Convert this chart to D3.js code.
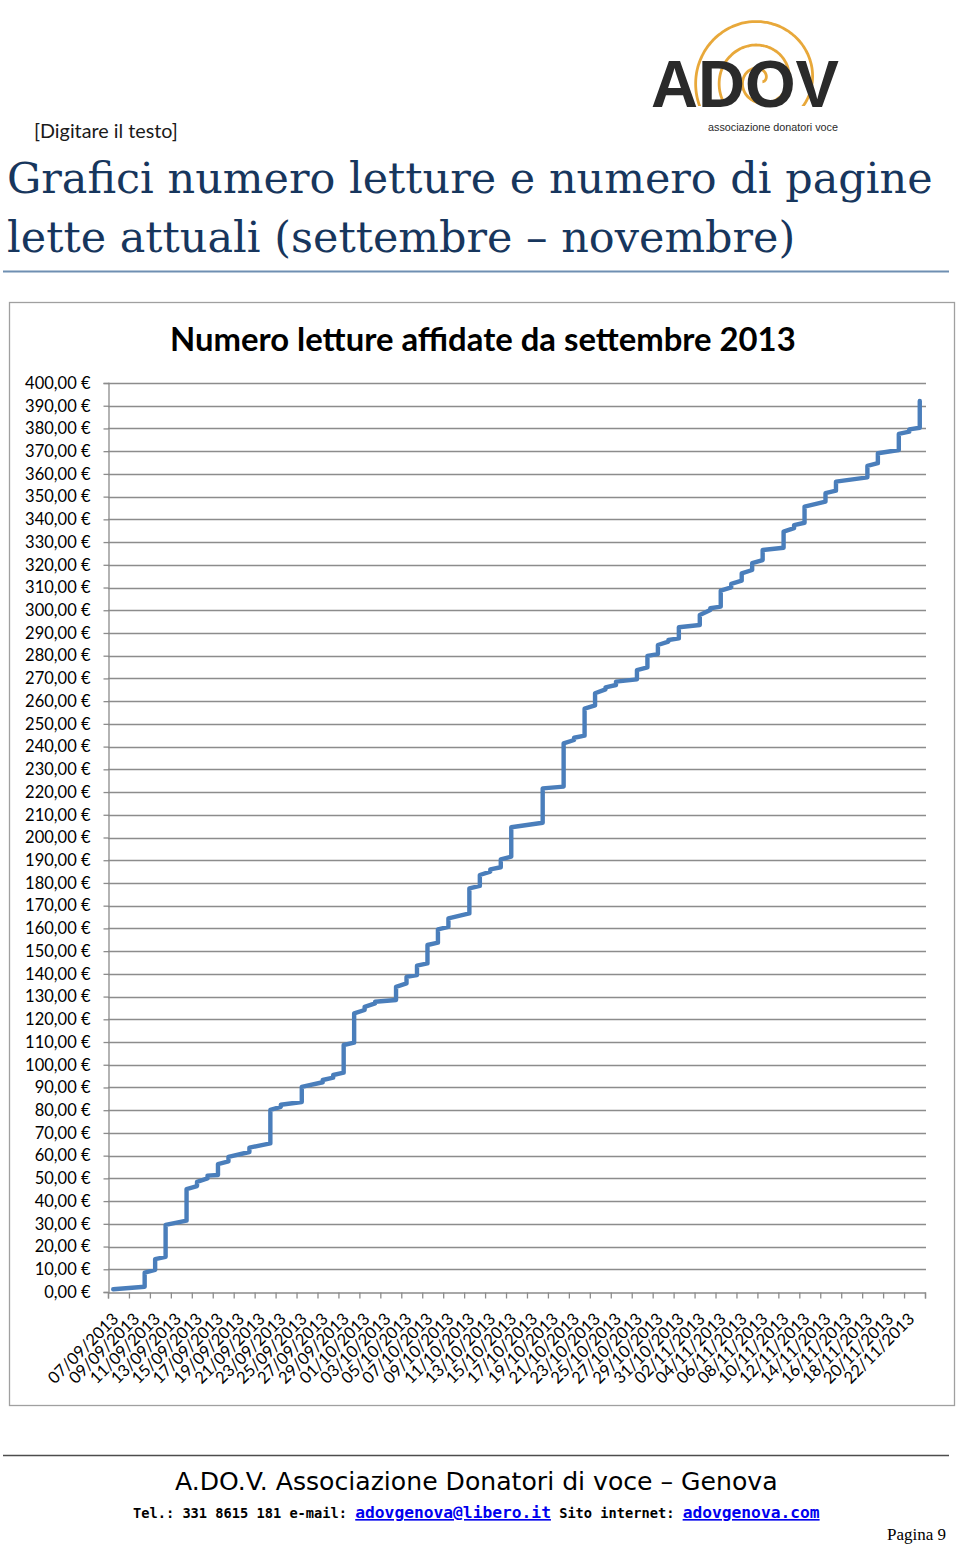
<!DOCTYPE html>
<html>
<head>
<meta charset="utf-8">
<script src="https://cdn.jsdelivr.net/npm/d3@7"></script>
<style>
  html, body { margin: 0; padding: 0; background: #fff; }
  svg { display: block; }
</style>
</head>
<body>
<div id="chart"></div>
<script>
// ---------------- DATA ----------------
const chartTitle = "Numero letture affidate da settembre 2013";
const pageTitle1 = "Grafici numero letture e numero di pagine";
const pageTitle2 = "lette attuali (settembre \u2013 novembre)";

// x-axis labels (every 2 days)
const tickLabels = [
  "07/09/2013","09/09/2013","11/09/2013","13/09/2013","15/09/2013","17/09/2013",
  "19/09/2013","21/09/2013","23/09/2013","25/09/2013","27/09/2013","29/09/2013",
  "01/10/2013","03/10/2013","05/10/2013","07/10/2013","09/10/2013","11/10/2013",
  "13/10/2013","15/10/2013","17/10/2013","19/10/2013","21/10/2013","23/10/2013",
  "25/10/2013","27/10/2013","29/10/2013","31/10/2013","02/11/2013","04/11/2013",
  "06/11/2013","08/11/2013","10/11/2013","12/11/2013","14/11/2013","16/11/2013",
  "18/11/2013","20/11/2013","22/11/2013"
];

// data points (several entries can share a date -> vertical steps)
const pointDates = [
  "07/09/2013",
  "10/09/2013","10/09/2013",
  "11/09/2013","11/09/2013",
  "12/09/2013","12/09/2013",
  "14/09/2013","14/09/2013",
  "15/09/2013","15/09/2013",
  "16/09/2013","16/09/2013",
  "17/09/2013","17/09/2013",
  "18/09/2013","18/09/2013",
  "20/09/2013","20/09/2013",
  "22/09/2013","22/09/2013",
  "23/09/2013","23/09/2013",
  "25/09/2013","25/09/2013",
  "27/09/2013","27/09/2013",
  "28/09/2013","28/09/2013",
  "29/09/2013","29/09/2013",
  "30/09/2013","30/09/2013",
  "01/10/2013","01/10/2013",
  "02/10/2013","02/10/2013",
  "04/10/2013","04/10/2013",
  "05/10/2013","05/10/2013",
  "06/10/2013","06/10/2013",
  "07/10/2013","07/10/2013",
  "08/10/2013","08/10/2013",
  "09/10/2013","09/10/2013",
  "11/10/2013","11/10/2013",
  "12/10/2013","12/10/2013",
  "13/10/2013","13/10/2013",
  "14/10/2013","14/10/2013",
  "15/10/2013","15/10/2013",
  "18/10/2013","18/10/2013",
  "20/10/2013","20/10/2013",
  "21/10/2013","21/10/2013",
  "22/10/2013","22/10/2013",
  "23/10/2013","23/10/2013",
  "24/10/2013","24/10/2013",
  "25/10/2013","25/10/2013",
  "27/10/2013","27/10/2013",
  "28/10/2013","28/10/2013",
  "29/10/2013","29/10/2013",
  "30/10/2013","30/10/2013",
  "31/10/2013","31/10/2013",
  "02/11/2013","02/11/2013",
  "03/11/2013","03/11/2013",
  "04/11/2013","04/11/2013",
  "05/11/2013","05/11/2013",
  "06/11/2013","06/11/2013",
  "07/11/2013","07/11/2013",
  "08/11/2013","08/11/2013",
  "10/11/2013","10/11/2013",
  "11/11/2013","11/11/2013",
  "12/11/2013","12/11/2013",
  "14/11/2013","14/11/2013",
  "15/11/2013","15/11/2013",
  "18/11/2013","18/11/2013",
  "19/11/2013","19/11/2013",
  "21/11/2013","21/11/2013",
  "22/11/2013","22/11/2013",
  "23/11/2013","23/11/2013"
];
const pointValues = [
  1.2,
  2.3, 8.5,
  9.7, 14.5,
  15.5, 29.5,
  31.4, 45.3,
  46.6, 48.5,
  50.0, 51.2,
  51.5, 56.3,
  57.5, 59.5,
  61.6, 63.5,
  65.4, 80.1,
  81.5, 82.4,
  83.6, 90.3,
  92.3, 93.3,
  94.3, 95.5,
  96.5, 108.7,
  109.7, 122.6,
  124.1, 125.5,
  127.0, 127.7,
  128.5, 134.3,
  135.8, 138.7,
  139.5, 143.6,
  144.6, 152.7,
  153.7, 159.6,
  160.7, 164.4,
  166.6, 177.6,
  178.7, 183.5,
  185.0, 186.0,
  186.9, 190.4,
  191.6, 204.5,
  206.5, 221.6,
  222.4, 241.4,
  242.9, 243.9,
  244.8, 256.7,
  258.1, 263.5,
  265.2, 266.1,
  267.1, 268.6,
  269.6, 273.7,
  274.9, 279.9,
  280.7, 284.7,
  286.2, 286.9,
  287.6, 292.5,
  293.5, 297.9,
  300.1, 300.9,
  301.6, 308.6,
  310.1, 311.6,
  313.0, 316.2,
  317.7, 320.7,
  322.1, 326.5,
  327.5, 334.6,
  336.1, 337.5,
  338.5, 345.6,
  347.8, 351.5,
  352.6, 356.6,
  358.5, 363.5,
  364.7, 369.1,
  370.5, 377.6,
  378.6, 379.6,
  380.3, 392.1
];

const yMax = 400;
const yStep = 10;

// ---------------- DRAW ----------------
const W = 960, H = 1545;
const svg = d3.select("#chart").append("svg").attr("width", W).attr("height", H);

function fitWidth(sel, target) {
  const w = sel.node().getComputedTextLength();
  const fs = parseFloat(sel.attr("font-size"));
  sel.attr("font-size", fs * target / w);
}

// ----- logo -----
const logo = svg.append("g");
{
  svg.append("defs").append("clipPath").attr("id", "logoclip")
    .append("rect").attr("x", 640).attr("y", 0).attr("width", 220).attr("height", 106);
  const cx = 760, cy = 80;
  const pts = d3.range(0, 6 * Math.PI, 0.05).map(t => {
    const r = 3 + t * 3.75;
    const a = -t + Math.PI * 0.2;
    return [cx + r * Math.cos(a), cy + r * Math.sin(a)];
  });
  logo.append("path")
    .attr("clip-path", "url(#logoclip)")
    .attr("d", d3.line().curve(d3.curveBasis)(pts))
    .attr("fill", "none").attr("stroke", "#e8a83a").attr("stroke-width", 2.8);
  logo.append("text").text("ADOV")
    .attr("x", 651).attr("y", 107)
    .attr("font-family", "Liberation Sans, Arial, sans-serif")
    .attr("font-weight", "bold").attr("font-size", 66)
    .attr("fill", "#2a2a2a")
    .attr("textLength", 188).attr("lengthAdjust", "spacingAndGlyphs");
  logo.append("text").text("associazione donatori voce")
    .attr("x", 708).attr("y", 131)
    .attr("font-family", "Liberation Sans Narrow, Liberation Sans, Arial, sans-serif")
    .attr("font-size", 10.5).attr("fill", "#2a2a2a")
    .attr("textLength", 130).attr("lengthAdjust", "spacingAndGlyphs");
}

// ----- page header -----
svg.append("text").text("[Digitare il testo]")
  .attr("x", 34).attr("y", 138)
  .attr("font-family", "Lato, Carlito, sans-serif").attr("font-size", 18).attr("fill", "#1a1a1a")
  .call(s => fitWidth(s, 144));

const t1 = svg.append("text").text(pageTitle1)
  .attr("x", 7).attr("y", 193)
  .attr("font-family", "DejaVu Serif, serif").attr("font-size", 46).attr("fill", "#17365d");
fitWidth(t1, 926);
const t2 = svg.append("text").text(pageTitle2)
  .attr("x", 7).attr("y", 252)
  .attr("font-family", "DejaVu Serif, serif").attr("font-size", +t1.attr("font-size")).attr("fill", "#17365d");

svg.append("line").attr("x1", 3).attr("x2", 949).attr("y1", 271.5).attr("y2", 271.5)
  .attr("stroke", "#6f8fb2").attr("stroke-width", 2);

// ----- chart frame -----
svg.append("rect").attr("x", 9.5).attr("y", 302.5).attr("width", 945).attr("height", 1103)
  .attr("fill", "#fff").attr("stroke", "#a0a0a0").attr("stroke-width", 1.3);

svg.append("text").text(chartTitle)
  .attr("x", 170).attr("y", 351)
  .attr("font-family", "Lato, Carlito, sans-serif").attr("font-weight", "bold")
  .attr("font-size", 31).attr("fill", "#000")
  .call(s => fitWidth(s, 626));

// scales
const parse = d3.utcParse("%d/%m/%Y");
const firstDate = parse(pointDates[0]);
const lastDate = parse(pointDates[pointDates.length - 1]);
const x = d3.scaleUtc()
  .domain([d3.utcHour.offset(firstDate, -12), d3.utcHour.offset(lastDate, 12)])
  .range([108, 925]);
const y = d3.scaleLinear().domain([0, yMax]).range([1292, 383]);

const yTicks = d3.range(0, yMax + yStep, yStep);
const it = d3.formatLocale({ decimal: ",", thousands: ".", grouping: [3], currency: ["", "\u00a0€"] });
const fmt = it.format("$,.2f");

// gridlines
svg.append("g").selectAll("line").data(yTicks.filter(d => d > 0)).join("line")
  .attr("x1", 108).attr("x2", 926)
  .attr("y1", d => Math.round(y(d)) + 0.5).attr("y2", d => Math.round(y(d)) + 0.5)
  .attr("stroke", "#8c8c8c").attr("stroke-width", 1.3);

// y axis
const yAxis = svg.append("g").attr("transform", "translate(108.5,0)")
  .call(d3.axisLeft(y).tickValues(yTicks).tickSize(5).tickPadding(13).tickFormat(fmt));
yAxis.select(".domain").attr("stroke", "#8c8c8c").attr("stroke-width", 1.3);
yAxis.selectAll(".tick line").attr("stroke", "#8c8c8c").attr("stroke-width", 1.3);
yAxis.selectAll(".tick text")
  .attr("font-family", "Lato, Carlito, sans-serif").attr("font-size", 16.5).attr("fill", "#000");

// x axis: ticks at 2-day boundaries, labels in between
const labelDates = tickLabels.map(parse);
const boundaries = labelDates.map(d => d3.utcHour.offset(d, -12))
  .concat([d3.utcHour.offset(labelDates[labelDates.length - 1], 36)]);
const xAxis = svg.append("g").attr("transform", "translate(0,1292.5)")
  .call(d3.axisBottom(x).tickValues(boundaries).tickSize(6).tickFormat(""));
xAxis.select(".domain").attr("stroke", "#8c8c8c").attr("stroke-width", 1.3);
xAxis.selectAll(".tick line").attr("stroke", "#8c8c8c").attr("stroke-width", 1.3);

svg.append("g").selectAll("text").data(tickLabels).join("text")
  .text(d => d)
  .attr("transform", d => `translate(${x(d3.utcHour.offset(parse(d), 12)) + 1},1320) rotate(-45)`)
  .attr("text-anchor", "end")
  .attr("font-family", "Lato, Carlito, sans-serif").attr("font-size", 16.5).attr("fill", "#000");

// series line
const points = pointDates.map((d, i) => [parse(d), pointValues[i]]);
svg.append("path")
  .attr("d", d3.line().x(p => x(p[0])).y(p => y(p[1]))(points))
  .attr("fill", "none").attr("stroke", "#4a7ebb").attr("stroke-width", 4.4)
  .attr("stroke-linejoin", "round").attr("stroke-linecap", "round");

// ----- footer -----
svg.append("line").attr("x1", 3).attr("x2", 949).attr("y1", 1455.5).attr("y2", 1455.5)
  .attr("stroke", "#4d4d4d").attr("stroke-width", 1.5);

svg.append("text").text("A.DO.V. Associazione Donatori di voce \u2013 Genova")
  .attr("x", 175).attr("y", 1490)
  .attr("font-family", "DejaVu Sans, sans-serif").attr("font-size", 26).attr("fill", "#000")
  .call(s => fitWidth(s, 603));

const f2 = svg.append("text").attr("x", 133).attr("y", 1518)
  .attr("font-family", "DejaVu Sans Mono, monospace").attr("font-weight", "bold")
  .attr("font-size", 16).attr("fill", "#000");
f2.append("tspan").text("Tel.: 331 8615 181 e-mail: ");
f2.append("tspan").text("adovgenova@libero.it").attr("fill", "#0000ee")
  .attr("text-decoration", "underline").attr("font-size", 19);
f2.append("tspan").text(" Sito internet: ");
f2.append("tspan").text("adovgenova.com").attr("fill", "#0000ee")
  .attr("text-decoration", "underline").attr("font-size", 19);
{
  const w = f2.node().getComputedTextLength();
  const k = 687 / w;
  f2.attr("font-size", 16 * k);
  f2.selectAll("tspan").filter(function() { return d3.select(this).attr("font-size"); })
    .attr("font-size", 19 * k);
}

svg.append("text").text("Pagina 9")
  .attr("x", 946).attr("y", 1540).attr("text-anchor", "end")
  .attr("font-family", "Liberation Serif, serif").attr("font-size", 17).attr("fill", "#000");
</script>
</body>
</html>
